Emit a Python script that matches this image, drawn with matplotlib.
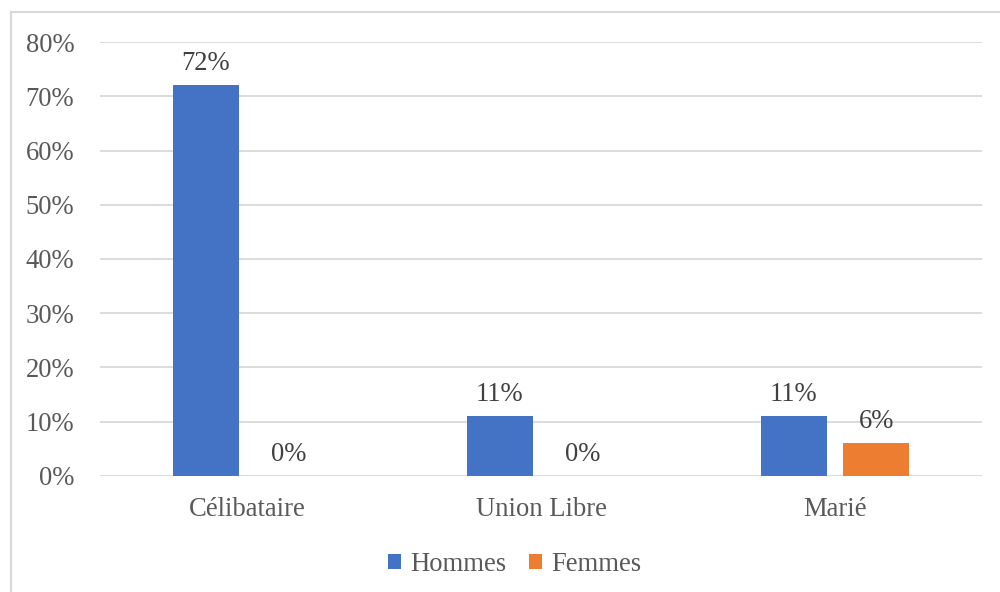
import matplotlib
matplotlib.use("Agg")
import matplotlib.pyplot as plt
from matplotlib.patches import Rectangle
import numpy as np

categories = ["Célibataire", "Union Libre", "Marié"]
hommes = [0.72, 0.11, 0.11]
femmes = [0.0, 0.0, 0.06]
series_names = ["Hommes", "Femmes"]
yticks = [0, 0.1, 0.2, 0.3, 0.4, 0.5, 0.6, 0.7, 0.8]

plt.rcParams['font.family'] = ['Liberation Serif', 'DejaVu Serif']
FS = 19.2

fig = plt.figure(figsize=(10, 5.92), dpi=100)
ax = fig.add_axes([0.1, 0.196, 0.882, 0.733])

x = np.arange(len(categories))
w = 0.2245
off = 0.141
b1 = ax.bar(x - off, hommes, w, color="#4472C4", label=series_names[0], zorder=3)
b2 = ax.bar(x + off, femmes, w, color="#ED7D31", label=series_names[1], zorder=3)

for bars, vals in ((b1, hommes), (b2, femmes)):
    for r, v in zip(bars, vals):
        ax.annotate(f"{v*100:.0f}%", (r.get_x() + r.get_width()/2, v),
                    xytext=(0, 6.5), textcoords="offset points",
                    ha="center", va="bottom", fontsize=FS, color="#404040")

ax.set_xlim(-0.5, 2.5)
ax.set_ylim(0, 0.8)
ax.set_yticks(yticks)
ax.set_yticklabels([f"{t*100:.0f}%" for t in yticks])
ax.set_xticks(x)
ax.set_xticklabels(categories)
ax.tick_params(axis="y", length=0, pad=18.5, labelsize=FS, labelcolor="#595959")
ax.tick_params(axis="x", length=0, pad=15, labelsize=FS, labelcolor="#595959")
ax.grid(axis="y", color="#D9D9D9", linewidth=1.3, zorder=0)
for s in ax.spines.values():
    s.set_visible(False)

leg = fig.legend(loc="center", bbox_to_anchor=(0.515, 0.046), ncol=2, frameon=False,
                 fontsize=FS, handlelength=0.48, handleheight=0.48, handletextpad=0.35,
                 columnspacing=0.85)
for t in leg.get_texts():
    t.set_color("#595959")

fig.add_artist(Rectangle((0.011, -0.1), 1.2, 0.98 + 0.1, transform=fig.transFigure,
                         fill=False, edgecolor="#D9D9D9", linewidth=1.5))

fig.savefig("out.png", dpi=100)
